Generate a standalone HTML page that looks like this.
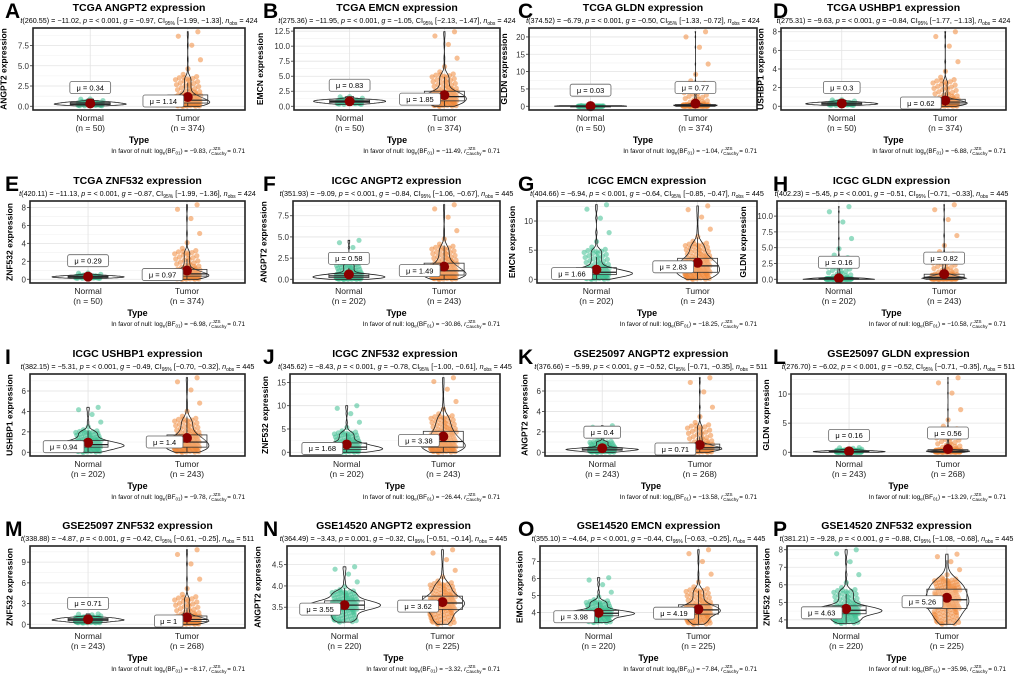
<!DOCTYPE html>
<html><head><meta charset="utf-8">
<style>
html,body{margin:0;padding:0;background:#fff;}
svg{display:block;font-family:"Liberation Sans",sans-serif;}
</style></head>
<body>
<svg id="fig" width="1020" height="679" viewBox="0 0 1020 679"></svg>
<script>
const letters=['A','B','C','D','E','F','G','H','I','J','K','L','M','N','O','P'];
const cohorts=['TCGA','TCGA','TCGA','TCGA','TCGA','ICGC','ICGC','ICGC','ICGC','ICGC','GSE25097','GSE25097','GSE25097','GSE14520','GSE14520','GSE14520'];
const genes=['ANGPT2','EMCN','GLDN','USHBP1','ZNF532','ANGPT2','EMCN','GLDN','USHBP1','ZNF532','ANGPT2','GLDN','ZNF532','ANGPT2','EMCN','ZNF532'];
const tdf=['260.55','275.36','374.52','275.31','420.11','351.93','404.66','402.23','382.15','345.62','376.66','276.70','338.88','364.49','355.10','381.21'];
const tval=['−11.02','−11.95','−6.79','−9.63','−11.13','−9.09','−6.94','−5.45','−5.31','−8.43','−5.99','−6.02','−4.87','−3.43','−4.64','−9.28'];
const pval=['< 0.001','< 0.001','< 0.001','< 0.001','< 0.001','< 0.001','< 0.001','< 0.001','< 0.001','< 0.001','< 0.001','< 0.001','< 0.001','0.001','< 0.001','< 0.001'];
const gval=['−0.97','−1.05','−0.50','−0.84','−0.87','−0.84','−0.64','−0.51','−0.49','−0.78','−0.52','−0.52','−0.42','−0.32','−0.44','−0.88'];
const ciLo=['−1.99','−2.13','−1.33','−1.77','−1.99','−1.06','−0.85','−0.71','−0.70','−1.00','−0.71','−0.71','−0.61','−0.51','−0.63','−1.08'];
const ciHi=['−1.33','−1.47','−0.72','−1.13','−1.36','−0.67','−0.47','−0.33','−0.32','−0.61','−0.35','−0.35','−0.25','−0.14','−0.25','−0.68'];
const nobs=[424,424,424,424,424,445,445,445,445,445,511,511,511,445,445,445];
const bf=['−9.83','−11.49','−1.04','−6.88','−6.98','−30.86','−18.25','−10.58','−9.78','−26.44','−13.58','−13.29','−8.17','−3.32','−7.84','−35.96'];
const nNormal=[50,50,50,50,50,202,202,202,202,202,243,243,243,220,220,220];
const nTumor=[374,374,374,374,374,243,243,243,243,243,268,268,268,225,225,225];
const meanNormal=[0.34,0.83,0.03,0.3,0.29,0.58,1.66,0.16,0.94,1.68,0.4,0.16,0.71,3.55,3.98,4.63];
const meanTumor=[1.14,1.85,0.77,0.62,0.97,1.49,2.83,0.82,1.4,3.38,0.71,0.56,1,3.62,4.19,5.26];
const tickLabels=[
 ['0.0','2.5','5.0','7.5'],['0.0','2.5','5.0','7.5','10.0','12.5'],['0','5','10','15','20'],['0','2','4','6','8'],
 ['0','2','4','6','8'],['0.0','2.5','5.0','7.5'],['0','5','10'],['0.0','2.5','5.0','7.5','10.0'],
 ['0','2','4','6'],['0','5','10','15'],['0','2','4','6'],['0','5','10'],
 ['0','3','6','9'],['3.5','4.0','4.5'],['4','5','6','7'],['4','5','6','7','8']];
// [min, q1, median, q3, max]
const statsNormal=[[0.05,0.2,0.3,0.45,0.9],[0.3,0.6,0.8,1.0,1.6],[0,0.01,0.02,0.04,0.2],[0.1,0.2,0.28,0.38,0.7],
 [0.1,0.2,0.27,0.36,0.7],[0,0.2,0.4,0.65,4.6],[0,0.8,1.2,2.0,12.8],[0,0.03,0.06,0.12,11.5],
 [0,0.5,0.75,1.15,4.4],[0,0.6,1.1,2.0,10],[0,0.2,0.3,0.45,2.6],[0,0.05,0.1,0.2,0.8],
 [0.2,0.5,0.65,0.85,1.5],[3.15,3.45,3.55,3.65,4.45],[3.4,3.8,3.95,4.12,6.05],[3.8,4.35,4.55,4.8,8]];
const statsTumor=[[0,0.4,0.75,1.4,9.2],[0,0.9,1.6,2.5,12.4],[0,0.1,0.25,0.5,21.5],[0,0.25,0.45,0.75,8],
 [0,0.35,0.6,1.1,8.3],[0,0.5,1.0,1.9,8.8],[0,1.2,2.3,3.6,12.6],[0,0.1,0.3,0.8,11.8],
 [0,0.5,1.0,1.7,7.3],[0,1.1,2.3,4.5,16],[0,0.3,0.45,0.8,7.3],[0,0.1,0.2,0.45,12.8],
 [0,0.4,0.7,1.2,10.8],[3.1,3.45,3.6,3.76,4.85],[3.3,3.9,4.15,4.45,7.7],[3.75,4.65,5.15,5.75,7.75]];
const labelPosNormal=['up','up','up','up','up','up','left','up','left','left','up','up','up','left','left','left'];
const labelPosTumor=['left','left','up','left','left','left','left','up','left','left','left','up','left','left','left','left'];

const NS='http://www.w3.org/2000/svg';
const svg=document.getElementById('fig');
function mk(tag,attrs,parent){const e=document.createElementNS(NS,tag);for(const k in attrs)e.setAttribute(k,attrs[k]);(parent||svg).appendChild(e);return e;}
const colRight=[245,500,757,1006];
const colX=[0,258,513,768];
const rowT=[7,180,353,525];
const boxLeft=[33,294,529,781,30,293,537,777,30,290,545,791,30,287,540,787];
const colors={N:['#1b9e77','#3fbf92'],T:['#e6640f','#f08a3c']};
const vioHalf={N:36,T:22};

for(let p=0;p<16;p++){
  const r=Math.floor(p/4),c=p%4;
  const T=rowT[r], L=boxLeft[p], R=colRight[c], top=T+21, bot=T+103;
  const g=mk('g',{});
  
  
  const sN=statsNormal[p], sT=statsTumor[p];
  const dmin=Math.min(sN[0],sT[0]), dmax=Math.max(sN[4],sT[4]), span=dmax-dmin;
  const lo=dmin-0.05*span, hi=dmax+0.05*span;
  const y=v=>bot-(v-lo)/(hi-lo)*(bot-top);
  const W=R-L, xN=L+0.27*W, xT=L+0.73*W;
  const lt=mk('text',{x:colX[c]+5,y:T+11,'font-size':21,'font-weight':'bold'},g);lt.textContent=letters[p];
  
  const cx=(L+R)/2;
  const ti=mk('text',{x:cx,y:T+4,'font-size':10.5,'font-weight':'bold','text-anchor':'middle'},g);
  ti.textContent=cohorts[p]+' '+genes[p]+' expression';
  
  const st=mk('text',{x:cx,y:T+16,'font-size':7.2,'text-anchor':'middle'},g);
  
  st.innerHTML='<tspan font-style="italic">t</tspan>('+tdf[p]+') = '+tval[p]+', <tspan font-style="italic">p</tspan> = '+pval[p]+', <tspan font-style="italic">g</tspan> = '+gval[p]+', CI<tspan font-size="5" dy="2">95%</tspan><tspan dy="-2"> ['+ciLo[p]+', '+ciHi[p]+'], </tspan><tspan font-style="italic">n</tspan><tspan font-size="5" dy="2">obs</tspan><tspan dy="-2"> = '+nobs[p]+'</tspan>';
  const ticks=tickLabels[p].map(Number);
  const step=ticks.length>1?ticks[1]-ticks[0]:1;
  for(let v=ticks[0]-step/2;v<=hi;v+=step/2){
    if(v<lo)continue;
    const major=ticks.some(t=>Math.abs(t-v)<1e-9);
    mk('line',{x1:L,x2:R,y1:y(v),y2:y(v),stroke:major?'#e3e3e3':'#f0f0f0','stroke-width':major?0.8:0.6},g);
  }
  [xN,xT].forEach(x=>mk('line',{x1:x,x2:x,y1:top,y2:bot,stroke:'#e3e3e3','stroke-width':0.8},g));
  const groups=[['N',xN,sN,meanNormal[p],labelPosNormal[p],nNormal[p],'Normal'],['T',xT,sT,meanTumor[p],labelPosTumor[p],nTumor[p],'Tumor']];
  groups.forEach(([key,gx,s,mean,lp,n,name])=>{
    const gg=mk('g',{},g);
    
    const cnt=Math.min(n,130), vals=[];
    for(let i=0;i<cnt;i++){
      const u=((i+0.5)*0.6180339887)%1;
      let v;
      if(u<0.25)v=s[0]+(s[1]-s[0])*u/0.25;
      else if(u<0.5)v=s[1]+(s[2]-s[1])*(u-0.25)/0.25;
      else if(u<0.75)v=s[2]+(s[3]-s[2])*(u-0.5)/0.25;
      else if(u<0.96)v=s[3]+(s[4]-s[3])*0.3*(u-0.75)/0.21;
      else v=s[3]+(s[4]-s[3])*(0.3+0.7*(u-0.96)/0.04);
      vals.push(v);
    }
    vals.push(s[4]);
    vals.forEach((v,i)=>{
      const jx=((((i+1)*0.754877666)%1)-0.5)*26;
      const pt=mk('circle',{cx:gx+jx,cy:y(v),r:2.6,fill:colors[key][1],'fill-opacity':0.55},gg);
      
    });
    const bw=Math.max((s[3]-s[1])*0.3,span*0.01);
    const steps=70,dens=[];
    for(let k=0;k<=steps;k++){
      const v=s[0]+(s[4]-s[0])*k/steps;let d=0;
      vals.forEach(w=>{const z=(v-w)/bw;d+=Math.exp(-0.5*z*z);});
      dens.push([v,d]);
    }
    const md=Math.max(...dens.map(d=>d[1]));
    const hw=vioHalf[key];
    let right=dens.map(([v,d])=>[gx+d/md*hw,y(v)]), left=dens.slice().reverse().map(([v,d])=>[gx-d/md*hw,y(v)]);
    const vio=mk('path',{d:'M'+right.concat(left).map(q=>q[0].toFixed(1)+','+q[1].toFixed(1)).join('L')+'Z',fill:'none',stroke:'#222','stroke-width':0.8},gg);
    
    const iqr=s[3]-s[1], wh=Math.min(s[4],s[3]+1.5*iqr), wl=Math.max(s[0],s[1]-1.5*iqr);
    mk('line',{x1:gx,x2:gx,y1:y(s[3]),y2:y(wh),stroke:'#222','stroke-width':0.8},gg);
    mk('line',{x1:gx,x2:gx,y1:y(s[1]),y2:y(wl),stroke:'#222','stroke-width':0.8},gg);
    const bx=mk('rect',{x:gx-20,y:y(s[3]),width:40,height:Math.max(0.8,y(s[1])-y(s[3])),fill:'#fff','fill-opacity':0.2,stroke:'#333','stroke-width':0.8},gg);
    
    mk('line',{x1:gx-20,x2:gx+20,y1:y(s[2]),y2:y(s[2]),stroke:'#222','stroke-width':1.2},gg);
    const mp=mk('circle',{cx:gx,cy:y(mean),r:5,fill:'#8b0000'},gg);
    
    const txt='μ = '+mean;
    const tw=txt.length*4.1+8;
    let lx,ly;
    if(lp==='up'){lx=gx-tw/2;ly=y(mean)-22;}else{lx=gx-4-tw;ly=y(mean)-2;}
    ly=Math.max(top+1,Math.min(ly,bot-13));
    const lb=mk('g',{},gg);
    
    mk('rect',{x:lx,y:ly,width:tw,height:12,rx:2,fill:'#fff',stroke:'#666','stroke-width':0.8},lb);
    const lt2=mk('text',{x:lx+tw/2,y:ly+8.8,'font-size':7.5,'text-anchor':'middle'},lb);lt2.textContent=txt;
    const xl=mk('text',{x:gx,y:bot+11,'font-size':8.5,'text-anchor':'middle',fill:'#222'},g);xl.textContent=name;
    
    const xn=mk('text',{x:gx,y:bot+21,'font-size':8.5,'text-anchor':'middle',fill:'#222'},g);xn.textContent='(n = '+n+')';
    
  });
  const fr=mk('rect',{x:L,y:top,width:W,height:bot-top,fill:'none',stroke:'#222','stroke-width':1.6},g);
  
  tickLabels[p].forEach((lab,i)=>{
    const v=ticks[i];
    mk('line',{x1:L-3,x2:L,y1:y(v),y2:y(v),stroke:'#333','stroke-width':0.8},g);
    const tl=mk('text',{x:L-4,y:y(v)+3,'font-size':8,'text-anchor':'end',fill:'#333'},g);tl.textContent=lab;
    
  });
  const yw=Math.max(...tickLabels[p].map(s=>s.length))*4.5+13;
  const yt=mk('text',{x:0,y:0,'font-size':8.5,'font-weight':'bold','text-anchor':'middle',transform:'translate('+(L-yw)+','+((top+bot)/2)+') rotate(-90)'},g);
  yt.textContent=genes[p]+' expression';
  
  const xt=mk('text',{x:cx,y:bot+33,'font-size':9,'font-weight':'bold','text-anchor':'middle'},g);xt.textContent='Type';
  
  const bt=mk('text',{x:R,y:T+146,'font-size':6.3,'text-anchor':'end'},g);
  
  bt.innerHTML='In favor of null: log<tspan font-size="4.5" dy="1.5">e</tspan><tspan dy="-1.5">(BF</tspan><tspan font-size="4.5" dy="1.5">01</tspan><tspan dy="-1.5">) = '+bf[p]+', </tspan><tspan font-style="italic">r</tspan><tspan font-size="4.5" dy="2">Cauchy</tspan><tspan font-size="4.5" dx="-14" dy="-5">JZS</tspan><tspan dx="5" dy="3"> = 0.71</tspan>';
}
</script>
</body></html>
